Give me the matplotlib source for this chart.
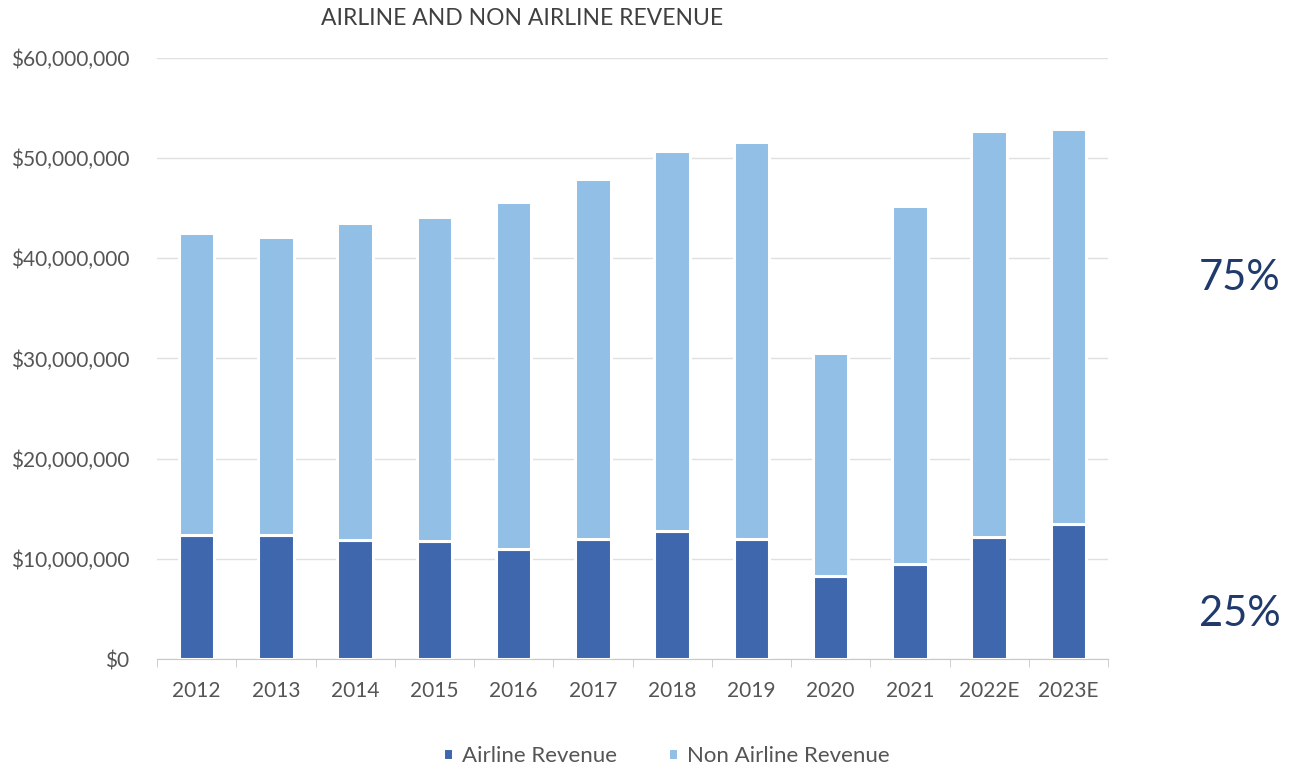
import numpy as np
import matplotlib.pyplot as plt
from matplotlib.ticker import FuncFormatter

plt.rcParams['font.family'] = ['Lato', 'DejaVu Sans']

years = ['2012', '2013', '2014', '2015', '2016', '2017', '2018', '2019',
         '2020', '2021', '2022E', '2023E']
airline = [12.4, 12.4, 11.9, 11.8, 11.0, 12.0, 12.8, 12.0, 8.3, 9.5, 12.2, 13.5]
total = [42.5, 42.1, 43.5, 44.1, 45.6, 47.9, 50.7, 51.6, 30.5, 45.2, 52.7, 52.9]
non_airline = [t - a for t, a in zip(total, airline)]

airline = np.array(airline) * 1e6
non_airline = np.array(non_airline) * 1e6

dark = '#3f67ae'
light = '#92bfe6'
grey = '#555555'

fig = plt.figure(figsize=(12.89, 7.67), dpi=100)
ax = fig.add_axes([0.1218, 0.1408, 0.7378, 0.7836])

x = np.arange(len(years))
ax.bar(x, airline, width=0.45, color=dark, edgecolor='white', linewidth=2.2,
       label='Airline Revenue', zorder=3)
ax.bar(x, non_airline, bottom=airline, width=0.45, color=light,
       edgecolor='white', linewidth=2.2, label='Non Airline Revenue', zorder=3)

ax.set_xlim(-0.5, len(years) - 0.5)
ax.set_ylim(0, 60e6)
ax.set_yticks(np.arange(0, 60e6 + 1, 10e6))
ax.yaxis.set_major_formatter(FuncFormatter(lambda v, p: f'${v:,.0f}'))
ax.grid(axis='y', color='#e0e0e0', linewidth=1, zorder=0)

ax.set_xticks(x)
ax.set_xticklabels(years)
ax.set_xticks(np.arange(-0.5, len(years)), minor=True)
ax.tick_params(axis='x', which='major', length=0, pad=16, labelsize=15,
               labelcolor=grey)
ax.tick_params(axis='x', which='minor', length=6, color='#c8c8c8')
ax.tick_params(axis='y', length=0, pad=20, labelsize=15, labelcolor=grey)

for side in ['top', 'right', 'left']:
    ax.spines[side].set_visible(False)
ax.spines['bottom'].set_color('#c8c8c8')

fig.text(0.405, 0.976, 'AIRLINE AND NON AIRLINE REVENUE', ha='center',
         va='center', fontsize=16.5, color='#404040')

fig.legend(loc='center', bbox_to_anchor=(0.517, 0.014), ncol=2, frameon=False,
           fontsize=16, labelcolor=grey, handlelength=0.45, handleheight=0.45,
           handletextpad=0.4, columnspacing=2.3)

fig.text(0.962, 0.638, '75%', ha='center', va='center', fontsize=30,
         color='#1f3a6b')
fig.text(0.962, 0.199, '25%', ha='center', va='center', fontsize=30,
         color='#1f3a6b')

fig.savefig('out.png', dpi=100, facecolor='white')
